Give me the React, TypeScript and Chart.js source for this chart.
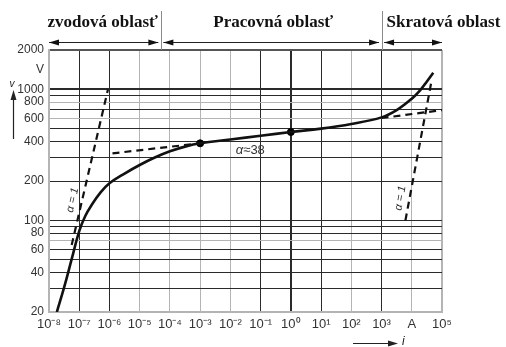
import React, { useEffect, useRef } from 'react';
import { Chart, registerables } from 'chart.js';

Chart.register(...registerables);

// ---- data ----
const xTickValues = [1e-8, 1e-7, 1e-6, 1e-5, 1e-4, 1e-3, 1e-2, 1e-1, 1, 1e1, 1e2, 1e3, 1e4, 1e5];
const xTickLabels = ['10⁻⁸', '10⁻⁷', '10⁻⁶', '10⁻⁵', '10⁻⁴', '10⁻³', '10⁻²', '10⁻¹', '10⁰', '10¹', '10²', '10³', 'A', '10⁵'];
const yGridValues = [20, 30, 40, 50, 60, 70, 80, 90, 100, 200, 300, 400, 500, 600, 700, 800, 900, 1000, 1414, 2000];
const yTickLabelValues = [20, 40, 60, 80, 100, 200, 400, 600, 800, 1000, 1414, 2000];
const yTickLabels = ['20', '40', '60', '80', '100', '200', '400', '600', '800', '1000', 'V', '2000'];

// main characteristic (exponent of current, voltage)
const curveLogI = [-7.74, -7.5, -7.25, -7, -6.8, -6.6, -6.3, -6, -5.5, -5, -4.5, -4, -3.5, -3, -2, -1, 0, 1, 2, 3, 3.5, 4, 4.3, 4.5, 4.71];
const curveV = [20, 30.8, 50.6, 83, 108, 130, 163, 192, 228, 265, 302, 337, 366, 388, 415, 443, 473, 502, 545, 612, 695, 850, 1000, 1150, 1340];

const dotLogI = [-3, 0];
const dotV = [388, 473];

const leakSlopeLogI = [-7.25, -6.05];
const leakSlopeV = [65, 1000];
const tangentLeftLogI = [-5.9, -3];
const tangentLeftV = [325, 388];
const tangentRightLogI = [3, 5];
const tangentRightV = [605, 695];
const shortSlopeLogI = [3.79, 4.65];
const shortSlopeV = [100, 1150];

const regionBoundsLogI = [-8, -4.3, 3, 5];
const regionTitles = ['zvodová oblasť', 'Pracovná oblasť', 'Skratová oblast'];
const alphaWorkLabel = ['α', '≈38'];
const alphaWorkAt = [-1.34, 345];
const alphaOneLabel = 'α = 1';
const alphaOneLeftAt = [-7.22, 143];
const alphaOneRightAt = [3.62, 148];
const yAxisTitle = 'v';
const xAxisTitle = 'i';

const toPts = (le: number[], v: number[]) => le.map((e, i) => ({ x: Math.pow(10, e), y: v[i] }));

// ---- styles ----
const DARK = '#2a2a2a';
const GREY = '#b4b4b4';
const xDarkExp = [-7, -6, -1, 0, 1, 3];
const yGreyVals = [800, 600, 70];

function arrowHead(ctx: CanvasRenderingContext2D, x: number, y: number, dx: number, dy: number) {
  const len = 10, hw = 3;
  const px = -dy, py = dx;
  ctx.beginPath();
  ctx.moveTo(x, y);
  ctx.lineTo(x - dx * len + px * hw, y - dy * len + py * hw);
  ctx.lineTo(x - dx * len - px * hw, y - dy * len - py * hw);
  ctx.closePath();
  ctx.fill();
}

const overlay = {
  id: 'overlay',
  afterDraw(chart: any) {
    const { ctx, chartArea } = chart;
    const xs = chart.scales.x;
    const ys = chart.scales.y;
    const px = (e: number) => xs.getPixelForValue(Math.pow(10, e));
    ctx.save();
    // region separators
    ctx.strokeStyle = '#8a8a8a';
    ctx.lineWidth = 1;
    const b = regionBoundsLogI.map(px);
    [b[1], b[2]].forEach((xx) => {
      ctx.beginPath();
      ctx.moveTo(Math.round(xx) + 0.5, 11);
      ctx.lineTo(Math.round(xx) + 0.5, chartArea.top);
      ctx.stroke();
    });
    // region arrows
    ctx.strokeStyle = '#222';
    ctx.fillStyle = '#111';
    const ay = 42;
    for (let i = 0; i < 3; i++) {
      const x0 = i === 0 ? chartArea.left : b[i] + 2.5;
      const x1 = i === 2 ? chartArea.right : b[i + 1] - 2.5;
      ctx.beginPath();
      ctx.moveTo(x0, ay + 0.5);
      ctx.lineTo(x1, ay + 0.5);
      ctx.stroke();
      arrowHead(ctx, x0, ay + 0.5, -1, 0);
      arrowHead(ctx, x1, ay + 0.5, 1, 0);
    }
    // titles
    ctx.fillStyle = '#111';
    ctx.font = 'bold 17px "Liberation Serif"';
    ctx.textBaseline = 'alphabetic';
    ctx.textAlign = 'right';
    ctx.fillText(regionTitles[0], b[1] - 3, 27);
    ctx.textAlign = 'center';
    ctx.fillText(regionTitles[1], (b[1] + b[2]) / 2 + 2, 27);
    ctx.textAlign = 'left';
    ctx.fillText(regionTitles[2], b[2] + 5, 27);

    // alpha ≈ 38
    const ax = xs.getPixelForValue(Math.pow(10, alphaWorkAt[0]));
    const ayy = ys.getPixelForValue(alphaWorkAt[1]);
    ctx.fillStyle = '#333';
    ctx.textBaseline = 'middle';
    ctx.textAlign = 'left';
    ctx.font = 'italic 13px "Liberation Sans"';
    const w1 = ctx.measureText(alphaWorkLabel[0]).width;
    ctx.font = '13px "Liberation Sans"';
    const w2 = ctx.measureText(alphaWorkLabel[1]).width;
    const sx = ax - (w1 + w2) / 2;
    ctx.font = 'italic 13px "Liberation Sans"';
    ctx.fillText(alphaWorkLabel[0], sx, ayy);
    ctx.font = '13px "Liberation Sans"';
    ctx.fillText(alphaWorkLabel[1], sx + w1, ayy);

    // alpha = 1 rotated labels
    const drawRot = (at: number[], deg: number) => {
      ctx.save();
      ctx.translate(xs.getPixelForValue(Math.pow(10, at[0])), ys.getPixelForValue(at[1]));
      ctx.rotate((deg * Math.PI) / 180);
      ctx.font = 'italic 11px "Liberation Sans"';
      ctx.textAlign = 'center';
      ctx.textBaseline = 'middle';
      ctx.fillStyle = '#333';
      ctx.fillText(alphaOneLabel, 0, 0);
      ctx.restore();
    };
    drawRot(alphaOneLeftAt, -77);
    drawRot(alphaOneRightAt, -80);

    // y axis title with arrow
    ctx.strokeStyle = '#222';
    ctx.fillStyle = '#222';
    ctx.lineWidth = 1.2;
    ctx.beginPath();
    ctx.moveTo(13.5, 139);
    ctx.lineTo(13.5, 95);
    ctx.stroke();
    arrowHead(ctx, 13.5, 90, 0, -1);
    ctx.font = 'italic 10px "Liberation Sans"';
    ctx.textAlign = 'center';
    ctx.textBaseline = 'middle';
    ctx.fillText(yAxisTitle, 12, 84);

    // x axis title with arrow
    ctx.beginPath();
    ctx.moveTo(353, 343.5);
    ctx.lineTo(392, 343.5);
    ctx.stroke();
    arrowHead(ctx, 398, 343.5, 1, 0);
    ctx.font = 'italic 12px "Liberation Sans"';
    ctx.textAlign = 'left';
    ctx.fillText(xAxisTitle, 402, 342);
    ctx.restore();
  },
};

export default function App() {
  const ref = useRef<HTMLCanvasElement | null>(null);
  useEffect(() => {
    if (!ref.current) return;
    const dashed = (data: any[]) => ({
      data,
      borderColor: '#111',
      borderWidth: 2.2,
      borderDash: [7, 5],
      pointRadius: 0,
      fill: false,
      tension: 0,
    });
    const chart = new Chart(ref.current, {
      type: 'line',
      data: {
        datasets: [
          {
            data: toPts(curveLogI, curveV),
            borderColor: '#111',
            borderWidth: 2.6,
            pointRadius: 0,
            fill: false,
            tension: 0.4,
          } as any,
          dashed(toPts(leakSlopeLogI, leakSlopeV)),
          dashed(toPts(tangentLeftLogI, tangentLeftV)),
          dashed(toPts(tangentRightLogI, tangentRightV)),
          dashed(toPts(shortSlopeLogI, shortSlopeV)),
          {
            data: toPts(dotLogI, dotV),
            showLine: false,
            pointRadius: 3.5,
            pointBackgroundColor: '#000',
            pointBorderColor: '#000',
          } as any,
        ],
      },
      options: {
        animation: false,
        responsive: false,
        parsing: false as any,
        layout: { padding: { left: 0, right: 64, top: 50, bottom: 0 } },
        plugins: { legend: { display: false }, tooltip: { enabled: false } },
        scales: {
          x: {
            type: 'logarithmic',
            min: 1e-8,
            max: 1e5,
            afterBuildTicks: (s: any) => {
              s.ticks = xTickValues.map((v) => ({ value: v }));
            },
            afterFit: (s: any) => {
              s.height = 35;
            },
            ticks: {
              autoSkip: false,
              maxRotation: 0,
              minRotation: 0,
              padding: 5,
              color: '#333',
              font: { family: '"Liberation Sans"', size: 13 },
              callback: (_v: any, i: number) => xTickLabels[i],
            },
            grid: {
              drawTicks: false,
              color: (c: any) => {
                const e = Math.round(Math.log10(c.tick.value));
                return xDarkExp.includes(e) ? DARK : GREY;
              },
              lineWidth: (c: any) => {
                const e = Math.round(Math.log10(c.tick.value));
                return e === 0 ? 2 : e === -8 || e === 5 ? 2 : 1;
              },
            },
            border: { color: GREY, width: 2 },
          },
          y: {
            type: 'logarithmic',
            min: 20,
            max: 2000,
            afterBuildTicks: (s: any) => {
              s.ticks = yGridValues.map((v) => ({ value: v }));
            },
            afterFit: (s: any) => {
              s.width = 49;
            },
            ticks: {
              autoSkip: false,
              padding: 5,
              color: '#333',
              font: { family: '"Liberation Sans"', size: 12 },
              callback: (v: any) => {
                const k = yTickLabelValues.indexOf(Number(v));
                return k >= 0 ? yTickLabels[k] : '';
              },
            },
            grid: {
              drawTicks: false,
              color: (c: any) => {
                const v = c.tick.value;
                if (v === 1414) return 'rgba(0,0,0,0)';
                if (v === 2000) return '#555';
                if (v === 20) return GREY;
                return yGreyVals.includes(v) ? GREY : DARK;
              },
              lineWidth: (c: any) => {
                const v = c.tick.value;
                return v === 2000 || v === 1000 ? 2 : 1;
              },
            },
            border: { color: GREY, width: 2 },
          },
        },
      } as any,
      plugins: [overlay],
    });
    return () => chart.destroy();
  }, []);
  return (
    <div style={{ position: 'absolute', left: 0, top: 0, width: 506, height: 347, background: '#fff' }}>
      <canvas ref={ref} width={506} height={347} style={{ display: 'block' }} />
    </div>
  );
}
